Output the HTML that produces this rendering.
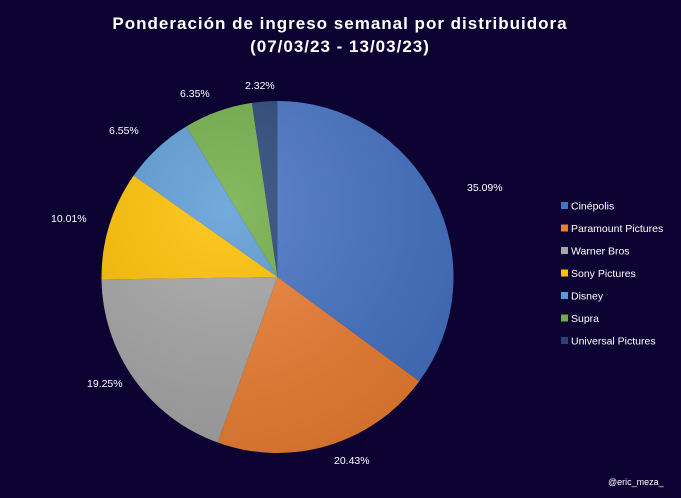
<!DOCTYPE html><html><head><style>
body{margin:0;background:#0c0333;}
svg text{font-family:"Liberation Sans","DejaVu Sans",sans-serif;fill:#fff}
</style></head><body>
<svg id="s" width="681" height="493" xmlns="http://www.w3.org/2000/svg">
<defs><radialGradient id="g" cx="0.35" cy="0.3" r="0.8"><stop offset="0" stop-color="#fff" stop-opacity="0.15"/><stop offset="1" stop-color="#000" stop-opacity="0.12"/></radialGradient></defs>
<rect width="681" height="493" fill="#0c0333"/>
<text x="340" y="29" text-anchor="middle" font-size="17" font-weight="bold" letter-spacing="1">Ponderación de ingreso semanal por distribuidora</text>
<text x="340" y="52" text-anchor="middle" font-size="17" font-weight="bold" letter-spacing="1">(07/03/23 - 13/03/23)</text>
<g id="pie"></g>
<circle cx="277.5" cy="277" r="176" fill="url(#g)"/>
<g font-size="10.5">
<text x="467" y="191">35.09%</text>
<text x="334" y="464">20.43%</text>
<text x="87" y="387">19.25%</text>
<text x="51" y="222">10.01%</text>
<text x="109" y="134">6.55%</text>
<text x="180" y="97">6.35%</text>
<text x="245" y="89">2.32%</text>
</g>
<g font-size="10.5" id="leg"></g>
<text x="608" y="485" font-size="9" fill="#ccc">@eric_meza_</text>
</svg>
<script>
var d=[[35.09,"#4472c4","Cinépolis"],[20.43,"#ed7d31","Paramount Pictures"],[19.25,"#a5a5a5","Warner Bros"],[10.01,"#ffc000","Sony Pictures"],[6.55,"#5b9bd5","Disney"],[6.35,"#70ad47","Supra"],[2.32,"#264478","Universal Pictures"]];
var cx=277.5,cy=277,r=176,a=0,p="",l="";
d.forEach(function(e,i){var a2=a+e[0]/100*2*Math.PI;
var x1=cx+r*Math.sin(a),y1=cy-r*Math.cos(a),x2=cx+r*Math.sin(a2),y2=cy-r*Math.cos(a2);
p+='<path d="M'+cx+' '+cy+'L'+x1+' '+y1+'A'+r+' '+r+' 0 '+(a2-a>Math.PI?1:0)+' 1 '+x2+' '+y2+'Z" fill="'+e[1]+'"/>';a=a2;
var y=208+i*22.5;l+='<rect x="561" y="'+(y-6)+'" width="7" height="7" fill="'+e[1]+'"/><text x="571" y="'+(y+1.5)+'">'+e[2]+'</text>';});
document.getElementById("pie").innerHTML=p;document.getElementById("leg").innerHTML=l;
</script>
</body></html>
